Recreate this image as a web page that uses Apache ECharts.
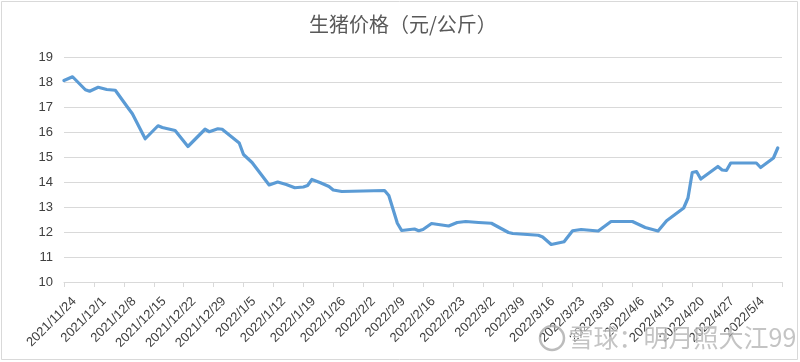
<!DOCTYPE html>
<html><head><meta charset="utf-8">
<script src="https://cdn.jsdelivr.net/npm/echarts@6/dist/echarts.min.js"></script>
<style>html,body{margin:0;padding:0;background:#fff}#c{width:800px;height:362px}</style>
</head><body><div id="c"></div>
<script>
const chartTitle = '生猪价格（元/公斤）';
const watermark = '雪球：明月照大江99';
const startDate = '2021-11-24';
const dates = [
  '2021-11-24','2021-11-26','2021-11-29','2021-11-30','2021-12-02','2021-12-04','2021-12-06',
  '2021-12-09','2021-12-10','2021-12-13','2021-12-16','2021-12-17','2021-12-20','2021-12-23',
  '2021-12-27','2021-12-28','2021-12-30','2021-12-31','2022-01-04','2022-01-05','2022-01-07',
  '2022-01-11','2022-01-13','2022-01-15','2022-01-17','2022-01-19','2022-01-20','2022-01-21',
  '2022-01-23','2022-01-25','2022-01-26','2022-01-28','2022-02-07','2022-02-08','2022-02-10',
  '2022-02-11','2022-02-14','2022-02-15','2022-02-16','2022-02-18','2022-02-22','2022-02-24',
  '2022-02-26','2022-03-01','2022-03-04','2022-03-08','2022-03-09','2022-03-15','2022-03-16',
  '2022-03-18','2022-03-21','2022-03-23','2022-03-25','2022-03-29','2022-04-01','2022-04-06',
  '2022-04-09','2022-04-12','2022-04-14','2022-04-18','2022-04-19','2022-04-20','2022-04-21',
  '2022-04-22','2022-04-26','2022-04-27','2022-04-28','2022-04-29','2022-05-05','2022-05-06',
  '2022-05-09','2022-05-10'
];
const prices = [
  18.06,18.21,17.69,17.63,17.79,17.70,17.67,
  16.96,16.73,15.73,16.25,16.18,16.06,15.42,
  16.11,16.01,16.13,16.11,15.56,15.10,14.78,
  13.88,14.00,13.90,13.77,13.80,13.86,14.10,
  13.97,13.82,13.68,13.62,13.66,13.46,12.35,
  12.06,12.12,12.05,12.10,12.34,12.24,12.38,
  12.42,12.38,12.35,11.98,11.94,11.87,11.80,
  11.50,11.61,12.05,12.10,12.04,12.42,12.42,
  12.18,12.04,12.45,12.96,13.36,14.38,14.42,
  14.12,14.62,14.48,14.46,14.76,14.76,14.58,
  14.96,15.36
];
const tickLabels = [
  '2021/11/24','2021/12/1','2021/12/8','2021/12/15','2021/12/22','2021/12/29',
  '2022/1/5','2022/1/12','2022/1/19','2022/1/26','2022/2/2','2022/2/9',
  '2022/2/16','2022/2/23','2022/3/2','2022/3/9','2022/3/16','2022/3/23',
  '2022/3/30','2022/4/6','2022/4/13','2022/4/20','2022/4/27','2022/5/4'
];
const yMin = 10, yMax = 19, yStep = 1;
const xStepDays = 7, xMaxDays = 168;

function dayOffset(s) {
  const p = s.split('-').map(Number), q = startDate.split('-').map(Number);
  return Math.round((Date.UTC(p[0], p[1]-1, p[2]) - Date.UTC(q[0], q[1]-1, q[2])) / 86400000);
}
const seriesData = dates.map((d, i) => [dayOffset(d), prices[i]]);

const chart = echarts.init(document.getElementById('c'), null, {renderer: 'canvas'});
chart.setOption({
  animation: false,
  backgroundColor: '#fff',
  title: {
    text: chartTitle, left: 304, top: 9,
    textStyle: {color: '#595959', fontSize: 20, fontWeight: 'normal', fontFamily: 'Noto Sans CJK SC'}
  },
  grid: {left: 64, right: 18, top: 57, bottom: 80, containLabel: false},
  xAxis: {
    type: 'value', min: 0, max: xMaxDays, interval: xStepDays,
    axisLine: {show: true, lineStyle: {color: '#d9d9d9', width: 1}},
    axisTick: {show: true, length: 5, lineStyle: {color: '#d9d9d9'}},
    splitLine: {show: false},
    axisLabel: {
      rotate: 45, color: '#404040', fontSize: 13, fontFamily: 'Liberation Sans',
      margin: 7, verticalAlign: 'top', padding: [8, 0, 0, 0],
      formatter: v => tickLabels[Math.round(v / xStepDays)] || ''
    }
  },
  yAxis: {
    type: 'value', min: yMin, max: yMax, interval: yStep,
    axisLine: {show: false}, axisTick: {show: false},
    splitLine: {lineStyle: {color: '#d9d9d9', width: 1}},
    axisLabel: {color: '#404040', fontSize: 13, fontFamily: 'Liberation Sans', margin: 11}
  },
  series: [{
    type: 'line', data: seriesData, showSymbol: false, smooth: false,
    lineStyle: {color: '#5B9BD5', width: 3.2, join: 'round', cap: 'round'}
  }],
  graphic: [
    {type: 'rect', shape: {x: 1.5, y: 1.5, width: 796, height: 358}, style: {fill: null, stroke: '#d9d9d9', lineWidth: 1}, silent: true, z: -1},
    {type: 'circle', shape: {cx: 552, cy: 338, r: 12}, style: {fill: null, stroke: 'rgba(165,165,165,0.75)', lineWidth: 2.5}, silent: true, z: 100},
    {type: 'text', left: 568, top: 324, style: {text: watermark, fill: 'rgba(165,165,165,0.65)', stroke: 'rgba(255,255,255,0.8)', lineWidth: 1, font: '25px "Noto Sans CJK SC"'}, silent: true, z: 100}
  ]
});
</script></body></html>
